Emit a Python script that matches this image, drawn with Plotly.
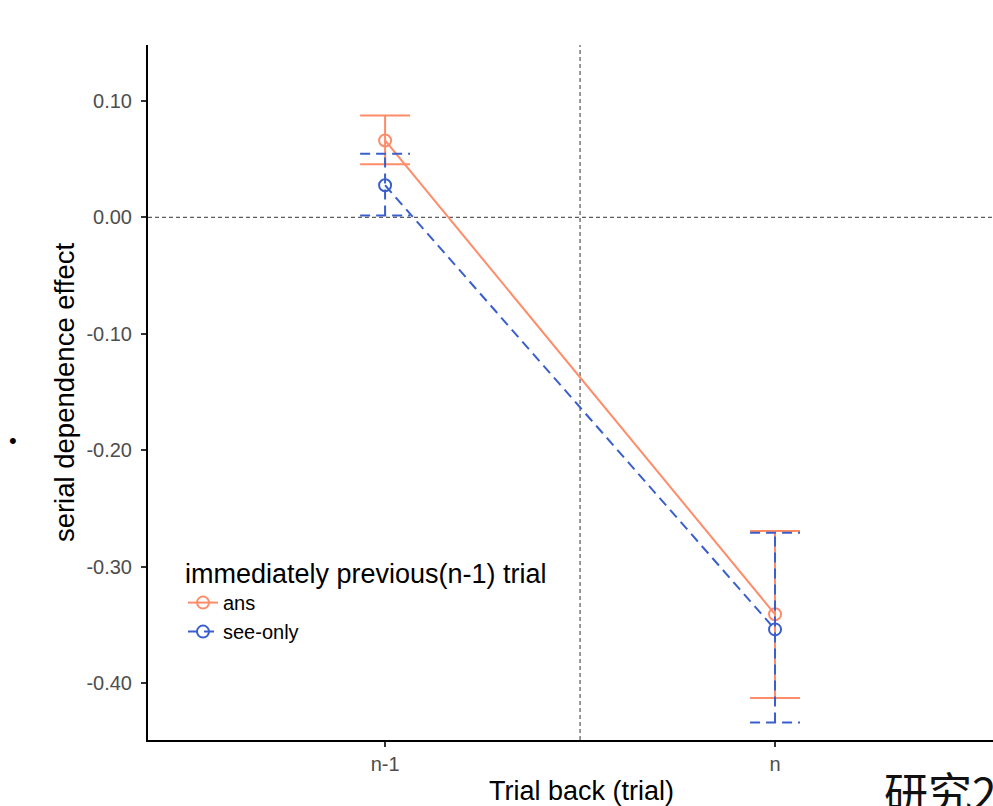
import plotly.graph_objects as go

categories = ["n-1", "n"]
cat_pos = [1, 2]
series_names = ["ans", "see-only"]
ans_mean = [0.066, -0.341]
ans_lo = [0.0455, -0.413]
ans_hi = [0.0875, -0.2695]
see_mean = [0.0275, -0.354]
see_lo = [0.0015, -0.434]
see_hi = [0.0545, -0.271]

colors = {"ans": "#FF8C69", "see-only": "#3A5FCD"}
dashes = {"ans": "solid", "see-only": "10px,6px"}
cap_half = 0.064

fig = go.Figure()

def add_series(name, mean, lo, hi):
    c = colors[name]
    d = dashes[name]
    ex, ey = [], []
    for x, l, h in zip(cat_pos, lo, hi):
        ex += [x, x, None, x - cap_half, x + cap_half, None, x - cap_half, x + cap_half, None]
        ey += [l, h, None, h, h, None, l, l, None]
    fig.add_trace(go.Scatter(x=ex, y=ey, mode="lines", line=dict(color=c, width=2, dash=d),
                             showlegend=False, hoverinfo="skip"))
    fig.add_trace(go.Scatter(x=cat_pos, y=mean, mode="lines+markers", name=name,
                             line=dict(color=c, width=2, dash=d),
                             marker=dict(symbol="circle-open", size=12, color=c, line=dict(width=2, color=c))))

add_series("ans", ans_mean, ans_lo, ans_hi)
add_series("see-only", see_mean, see_lo, see_hi)

# reference lines
fig.add_shape(type="line", xref="paper", yref="y", x0=0, x1=1, y0=0, y1=0,
              line=dict(color="#333333", width=1, dash="4px,3px"), layer="below")
fig.add_shape(type="line", xref="x", yref="paper", x0=1.5, x1=1.5, y0=0, y1=1,
              line=dict(color="#333333", width=1, dash="4px,3px"), layer="below")

# x-axis title (the original plot panel continues past the right edge, so it sits right of centre)
fig.add_annotation(text="Trial back (trial)", xref="paper", yref="paper", x=(581 - 148) / 845,
                   y=-(791 - 740) / 695, xanchor="center", yanchor="middle", showarrow=False,
                   font=dict(size=27, color="black"))
fig.add_annotation(text="研究2", xref="paper", yref="paper", x=(882 - 148) / 845, y=-(757 - 740) / 695,
                   xanchor="left", yanchor="top", showarrow=False,
                   font=dict(family="Noto Sans CJK SC", size=44, color="#111111"))
fig.add_annotation(text="•", xref="paper", yref="paper", x=(13 - 148) / 845, y=(740 - 441) / 695,
                   xanchor="center", yanchor="middle", showarrow=False,
                   font=dict(family="Liberation Sans", size=22, color="#000000"))

fig.update_layout(
    width=993, height=806,
    margin=dict(l=148, r=0, t=45, b=66, autoexpand=False),
    plot_bgcolor="white", paper_bgcolor="white",
    font=dict(family="Liberation Sans, Arial, sans-serif"),
    xaxis=dict(range=[0.392, 2.559], tickmode="array", tickvals=cat_pos, ticktext=categories,
               automargin=False,
               showgrid=False, zeroline=False, showline=True, linecolor="black", linewidth=2,
               ticks="outside", ticklen=5, tickwidth=1.5, tickcolor="#333333",
               tickfont=dict(size=20, color="#4D4D4D")),
    yaxis=dict(range=[-0.449, 0.148], tickvals=[0.10, 0.0, -0.10, -0.20, -0.30, -0.40],
               ticktext=["0.10", "0.00", "-0.10", "-0.20", "-0.30", "-0.40"],
               automargin=False, ticklabelstandoff=5,
               showgrid=False, zeroline=False, showline=True, linecolor="black", linewidth=2,
               ticks="outside", ticklen=5, tickwidth=1.5, tickcolor="#333333",
               tickfont=dict(size=20, color="#4D4D4D"),
               title=dict(text="serial dependence effect", font=dict(size=27.5, color="black"), standoff=4)),
    legend=dict(x=(183 - 148) / 845, y=(740 - 548) / 695, xanchor="left", yanchor="top",
                bgcolor="rgba(0,0,0,0)", itemwidth=30, tracegroupgap=0,
                title=dict(text="immediately previous(n-1) trial", font=dict(size=27, color="black")),
                font=dict(size=20, color="black")),
)

fig.write_html("out.html", config={"displayModeBar": False},
               post_script="document.body.style.margin='0px';document.body.style.overflow='hidden';")
